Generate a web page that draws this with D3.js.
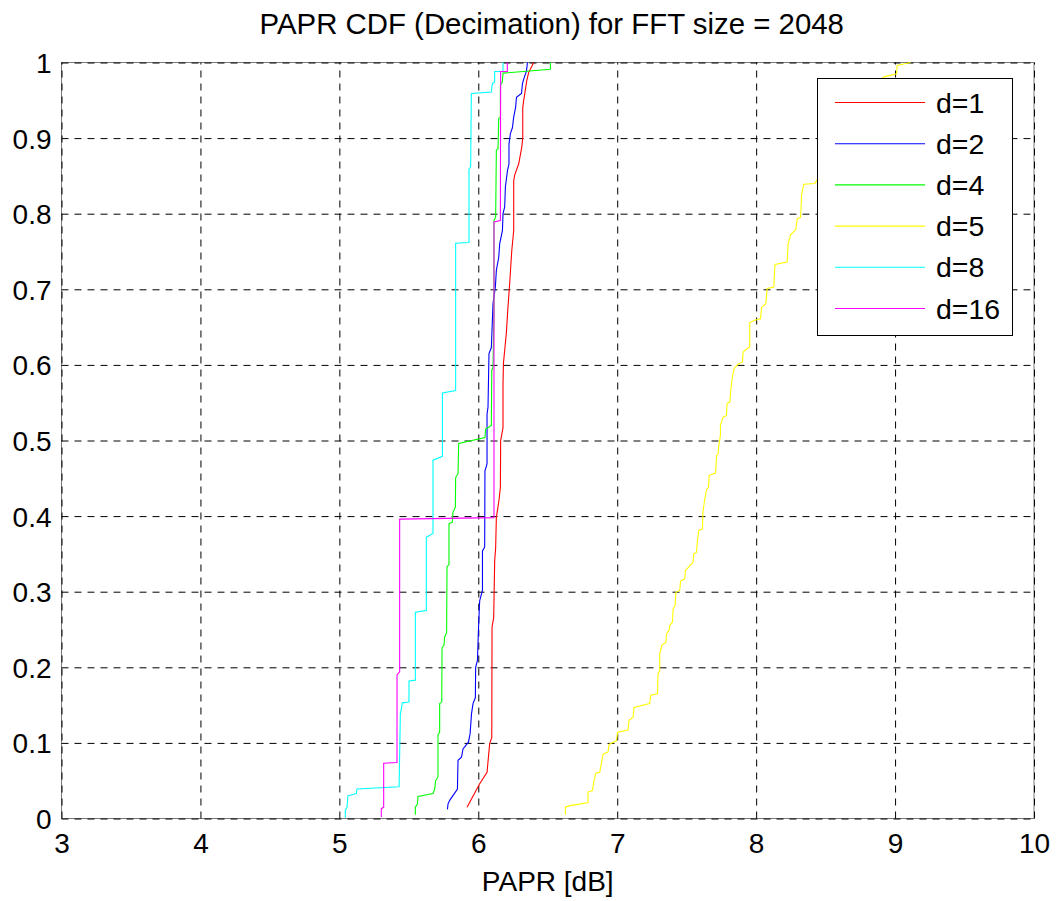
<!DOCTYPE html>
<html>
<head>
<meta charset="utf-8">
<script src="https://cdn.jsdelivr.net/npm/d3@7"></script>
<style>
  html, body { margin: 0; padding: 0; background: #ffffff; }
  svg { display: block; }
  text { font-family: "Liberation Sans", Arial, Helvetica, sans-serif; fill: #000; }
</style>
</head>
<body>
<svg id="chart" width="1060" height="901"></svg>
<script>
// ---------- data (PAPR [dB], CDF) ----------
const titleText = "PAPR CDF (Decimation) for FFT size = 2048";
const xLabelText = "PAPR [dB]";
const xTicks = [3, 4, 5, 6, 7, 8, 9, 10];
const yTicks = [0, 0.1, 0.2, 0.3, 0.4, 0.5, 0.6, 0.7, 0.8, 0.9, 1];
const seriesNames = ["d=1", "d=2", "d=4", "d=5", "d=8", "d=16"];
const seriesColors = ["#ff0000", "#0000ff", "#00ff00", "#ffff00", "#00ffff", "#ff00ff"];

const cdf_d1 = [[5.919,0.015],[6.010,0.046],[6.063,0.061],[6.082,0.099],[6.097,0.107],[6.099,0.253],[6.111,0.266],[6.118,0.341],[6.125,0.358],[6.130,0.398],[6.149,0.421],[6.159,0.438],[6.161,0.500],[6.178,0.517],[6.178,0.575],[6.181,0.602],[6.192,0.623],[6.202,0.642],[6.212,0.672],[6.226,0.708],[6.241,0.751],[6.255,0.778],[6.255,0.844],[6.262,0.851],[6.291,0.866],[6.313,0.888],[6.320,0.900],[6.320,0.940],[6.327,0.950],[6.349,0.976],[6.363,0.987],[6.399,1.0]];

const cdf_d2 = [[5.778,0.012],[5.782,0.019],[5.794,0.024],[5.850,0.039],[5.854,0.077],[5.879,0.081],[5.890,0.092],[5.929,0.101],[5.941,0.112],[5.951,0.138],[5.962,0.152],[5.979,0.160],[5.981,0.200],[5.994,0.209],[6.001,0.249],[6.010,0.288],[6.030,0.302],[6.030,0.354],[6.046,0.359],[6.048,0.460],[6.063,0.469],[6.063,0.535],[6.070,0.544],[6.077,0.615],[6.094,0.623],[6.106,0.681],[6.123,0.703],[6.130,0.725],[6.147,0.742],[6.154,0.760],[6.174,0.778],[6.178,0.800],[6.190,0.809],[6.195,0.835],[6.210,0.857],[6.221,0.866],[6.221,0.892],[6.231,0.906],[6.246,0.914],[6.255,0.928],[6.269,0.941],[6.275,0.954],[6.311,0.959],[6.318,0.972],[6.327,0.978],[6.347,0.989],[6.354,1.0]];

const cdf_d4 = [[5.547,0.005],[5.547,0.015],[5.562,0.019],[5.566,0.029],[5.674,0.033],[5.686,0.039],[5.693,0.050],[5.710,0.055],[5.710,0.111],[5.722,0.114],[5.722,0.152],[5.737,0.154],[5.739,0.226],[5.753,0.229],[5.758,0.240],[5.772,0.246],[5.775,0.333],[5.789,0.336],[5.789,0.390],[5.813,0.392],[5.818,0.405],[5.835,0.412],[5.837,0.451],[5.854,0.456],[5.859,0.496],[6.048,0.504],[6.053,0.515],[6.094,0.520],[6.097,0.593],[6.106,0.597],[6.113,0.672],[6.113,0.791],[6.125,0.795],[6.130,0.884],[6.142,0.886],[6.147,0.926],[6.159,0.927],[6.159,0.970],[6.173,0.974],[6.178,0.986],[6.519,0.991],[6.519,1.0]];

const cdf_d5 = [[6.627,0.005],[6.627,0.015],[6.658,0.017],[6.730,0.019],[6.790,0.021],[6.790,0.035],[6.822,0.037],[6.831,0.048],[6.846,0.060],[6.874,0.061],[6.887,0.074],[6.898,0.085],[6.934,0.088],[6.941,0.098],[6.995,0.103],[7.002,0.114],[7.078,0.117],[7.085,0.130],[7.114,0.134],[7.121,0.147],[7.234,0.152],[7.241,0.163],[7.290,0.165],[7.294,0.191],[7.306,0.196],[7.306,0.218],[7.321,0.229],[7.350,0.233],[7.355,0.244],[7.373,0.249],[7.378,0.255],[7.398,0.260],[7.402,0.277],[7.417,0.282],[7.422,0.299],[7.450,0.302],[7.456,0.314],[7.486,0.317],[7.491,0.328],[7.510,0.332],[7.546,0.339],[7.551,0.350],[7.570,0.352],[7.578,0.368],[7.587,0.381],[7.613,0.383],[7.618,0.407],[7.630,0.422],[7.643,0.435],[7.657,0.438],[7.662,0.454],[7.708,0.457],[7.715,0.480],[7.726,0.482],[7.731,0.493],[7.743,0.507],[7.743,0.520],[7.762,0.531],[7.786,0.533],[7.791,0.549],[7.811,0.551],[7.815,0.562],[7.827,0.582],[7.841,0.595],[7.870,0.601],[7.902,0.604],[7.906,0.617],[7.954,0.624],[7.954,0.656],[7.990,0.659],[8.031,0.661],[8.039,0.676],[8.070,0.681],[8.079,0.701],[8.127,0.703],[8.135,0.733],[8.223,0.736],[8.230,0.760],[8.248,0.772],[8.286,0.779],[8.295,0.793],[8.320,0.795],[8.327,0.825],[8.343,0.839],[8.423,0.840],[8.55,0.88],[8.70,0.93],[8.82,0.96],[8.920,0.981],[9.011,0.985],[9.015,0.996],[9.111,1.0]];

const cdf_d8 = [[5.043,0.001],[5.043,0.011],[5.055,0.015],[5.062,0.030],[5.122,0.033],[5.127,0.039],[5.430,0.042],[5.439,0.138],[5.454,0.153],[5.501,0.154],[5.501,0.182],[5.547,0.183],[5.547,0.273],[5.626,0.275],[5.626,0.372],[5.674,0.377],[5.674,0.474],[5.742,0.479],[5.742,0.563],[5.837,0.566],[5.837,0.761],[5.933,0.762],[5.933,0.859],[5.945,0.862],[5.950,0.959],[6.094,0.961],[6.099,0.970],[6.106,0.973],[6.118,0.974],[6.118,0.988],[6.178,0.988],[6.178,1.0]];

const cdf_d16 = [[5.302,0.002],[5.302,0.013],[5.319,0.015],[5.319,0.073],[5.415,0.074],[5.415,0.190],[5.434,0.194],[5.434,0.396],[6.113,0.398],[6.113,0.789],[6.159,0.791],[6.161,0.988],[6.209,0.988],[6.209,1.0]];

const seriesData = [cdf_d1, cdf_d2, cdf_d4, cdf_d5, cdf_d8, cdf_d16];

// ---------- layout ----------
const svg = d3.select("#chart");
const pLeft = 61.5, pRight = 1034, pTop = 62.5, pBottom = 818.5;
const x = d3.scaleLinear().domain([3, 10]).range([pLeft, pRight]);
const y = d3.scaleLinear().domain([0, 1]).range([pBottom, pTop]);

svg.append("rect").attr("x", pLeft).attr("y", pTop)
  .attr("width", pRight - pLeft).attr("height", pBottom - pTop).attr("fill", "#fff");

// box (solid gray)
svg.append("rect").attr("x", pLeft).attr("y", pTop)
  .attr("width", pRight - pLeft).attr("height", pBottom - pTop)
  .attr("fill", "none").attr("stroke", "#7a7a7a").attr("stroke-width", 1);

// grid via axes
const gx = svg.append("g").attr("transform", `translate(0,${pBottom})`)
  .call(d3.axisBottom(x).tickValues(xTicks).tickSize(-(pBottom - pTop)).tickFormat(""));
const gy = svg.append("g").attr("transform", `translate(${pLeft},0)`)
  .call(d3.axisLeft(y).tickValues(yTicks).tickSize(-(pRight - pLeft)).tickFormat(""));
[gx, gy].forEach(g => {
  g.select(".domain").remove();
  g.selectAll(".tick line").attr("stroke", "#000").attr("stroke-width", 1)
    .attr("stroke-dasharray", "7,6");
});

// tick labels
const lx = svg.append("g").attr("transform", `translate(0,${pBottom})`)
  .call(d3.axisBottom(x).tickValues(xTicks).tickSize(0).tickPadding(0).tickFormat(d3.format("d")));
lx.select(".domain").remove();
lx.selectAll("text").attr("font-size", 28).attr("dy", null).attr("y", 34)
  .attr("font-family", "Liberation Sans, Arial, sans-serif").attr("fill", "#000");

const ly = svg.append("g").attr("transform", `translate(${pLeft},0)`)
  .call(d3.axisLeft(y).tickValues(yTicks).tickSize(0).tickPadding(0)
    .tickFormat(d => d === 0 ? "0" : d === 1 ? "1" : d3.format(".1f")(d)));
ly.select(".domain").remove();
ly.selectAll("text").attr("font-size", 28).attr("dy", null).attr("x", -10).attr("y", 10)
  .attr("font-family", "Liberation Sans, Arial, sans-serif").attr("fill", "#000");

// curves
const line = d3.line().x(d => x(d[0])).y(d => y(d[1]));
svg.append("defs").append("clipPath").attr("id", "clip")
  .append("rect").attr("x", pLeft).attr("y", pTop - 1).attr("width", pRight - pLeft).attr("height", pBottom - pTop + 2);
const curves = svg.append("g").attr("clip-path", "url(#clip)");
seriesData.forEach((s, i) => {
  curves.append("path").datum(s).attr("d", line)
    .attr("fill", "none").attr("stroke", seriesColors[i]).attr("stroke-width", 1.1);
});

// title and label
svg.append("text").attr("x", (pLeft + pRight) / 2 + 4).attr("y", 34)
  .attr("text-anchor", "middle").attr("font-size", 29.4).text(titleText);
svg.append("text").attr("x", (pLeft + pRight) / 2).attr("y", 891)
  .attr("text-anchor", "middle").attr("font-size", 28).text(xLabelText);

// legend
const lg = svg.append("g");
lg.append("rect").attr("x", 817.5).attr("y", 78.5).attr("width", 195).attr("height", 257)
  .attr("fill", "#fff").attr("stroke", "#000").attr("stroke-width", 1);
const legY = d3.scalePoint().domain(seriesNames).range([102.5, 308.5]);
seriesNames.forEach((n, i) => {
  lg.append("line").attr("x1", 835).attr("x2", 925)
    .attr("y1", legY(n)).attr("y2", legY(n))
    .attr("stroke", seriesColors[i]).attr("stroke-width", 1.1);
  lg.append("text").attr("x", 936).attr("y", legY(n) + 10)
    .attr("font-size", 28.5).text(n);
});
</script>
</body>
</html>
